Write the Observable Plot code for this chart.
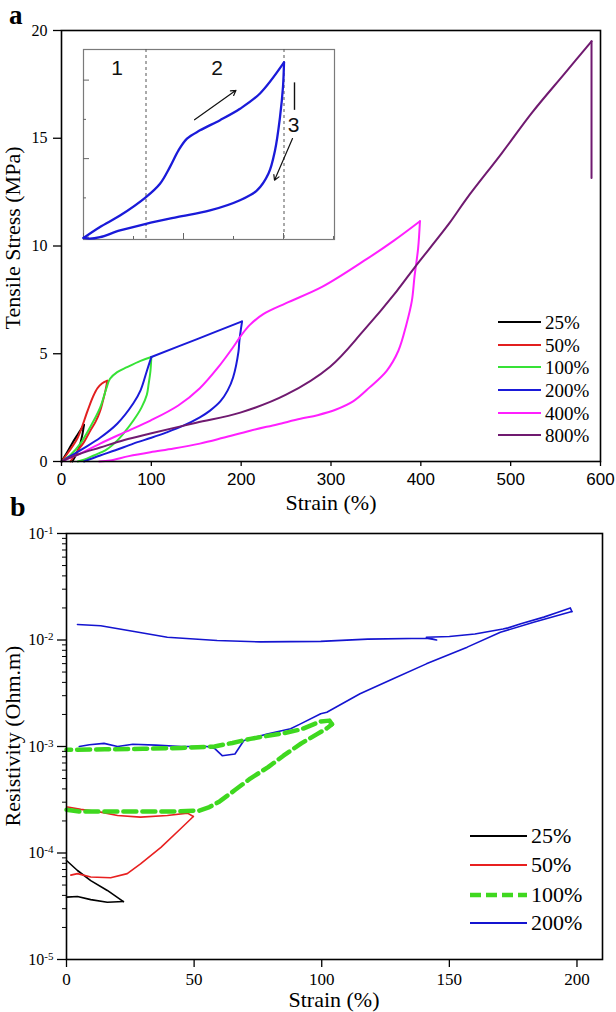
<!DOCTYPE html>
<html><head><meta charset="utf-8">
<script src="https://cdn.jsdelivr.net/npm/d3@7"></script>
<script src="https://cdn.jsdelivr.net/npm/@observablehq/plot@0.6"></script>
<style>
body{margin:0;background:#fff;}
#wrap{position:relative;width:616px;height:1012px;overflow:hidden;background:#fff;font-family:"Liberation Serif","Times New Roman",serif;color:#000;}
.abs{position:absolute;white-space:nowrap;line-height:1;}
.ov{position:absolute;left:0;}
</style></head><body><div id="wrap"></div>
<script>
// ---------- Panel a data: [strain %, stress MPa], branches (loading / unloading) ----------
const namesA = ["25%","50%","100%","200%","400%","800%"];
const colorsA = ["#000000","#E21F1F","#36E236","#1A1AD9","#FF1FFF","#701A70"];
const xTicksA = [0,100,200,300,400,500,600];
const yTicksA = [0,5,10,15,20];

const stress25 = [
  [[0,0],[6,0.4],[12,0.85],[18,1.25],[25,1.7]],
  [[25,1.7],[23,1.2],[20,0.7],[16,0.3],[12,0]]
];
const stress50 = [
  [[0,0],[8,0.45],[18,1.1],[29,2.35],[35,3.0],[40,3.4],[45,3.62],[51,3.75]],
  [[51,3.75],[49,3.3],[46,2.8],[43,2.35],[38,1.85],[32,1.43],[25,0.9],[18,0.5],[13,0.2],[10,0]]
];
const stress100 = [
  [[0,0],[10,0.3],[21,0.83],[32,1.6],[43,2.5],[50,3.4],[54,3.84],[62,4.15],[73,4.38],[88,4.67],[100,4.85]],
  [[100,4.85],[99,4.2],[97,3.6],[95,3.1],[89,2.5],[80,1.9],[70,1.35],[62,0.97],[50,0.55],[36,0.28],[25,0.08],[18,0]]
];
const stress200 = [
  [[0,0],[10,0.25],[24,0.6],[43,1.1],[62,1.75],[80,2.7],[88,3.3],[95,4.2],[100,4.85]],
  [[100,4.85],[151,5.68],[201,6.5]],
  [[201,6.5],[198,5.6],[197,5.1],[191,3.9],[185,3.3],[177,2.8],[165,2.35],[154,2.05],[135,1.65],[117,1.35],[100,1.1],[80,0.83],[60,0.52],[43,0.28],[25,0]]
];
const stress400 = [
  [[0,0],[20,0.35],[43,0.83],[70,1.35],[99,1.9],[130,2.6],[154,3.4],[175,4.4],[191,5.3],[200,5.85],[210,6.35],[225,6.85],[250,7.35],[290,8.1],[340,9.4],[370,10.25],[399,11.15]],
  [[399,11.15],[397,9.9],[393,8.6],[390,7.45],[384,6.37],[375,5.14],[362,4.21],[343,3.44],[325,2.8],[305,2.4],[285,2.15],[266,1.98],[240,1.72],[210,1.43],[180,1.1],[154,0.83],[125,0.6],[99,0.43],[75,0.25],[54,0.05],[42,0]]
];
const stress800 = [
  [[0,0],[7,0.14],[20,0.35],[43,0.65],[70,1.0],[99,1.3],[150,1.8],[199,2.27],[250,3.1],[299,4.4],[336,6.06],[373,7.9],[393,9.0],[432,11.07],[451,12.2],[490,14.3],[524,16.2],[560,18.0],[590,19.5]],
  [[590,19.5],[590,13.15]]
];

// ---------- Inset data (arbitrary units, no labels) ----------
const insetLoad = [[0,-0.02],[0.33,0.26],[0.73,0.55],[1.25,1.02],[1.53,1.36],[1.73,1.79],[1.9,2.21],[2.07,2.51],[2.33,2.72],[2.73,2.98],[3.13,3.27],[3.53,3.66],[4.01,4.45]];
const insetUnload = [[4.01,4.45],[3.99,3.83],[3.93,3.06],[3.83,2.21],[3.7,1.62],[3.47,1.19],[3.13,0.94],[2.53,0.68],[1.87,0.51],[1.25,0.34],[0.73,0.17],[0.33,0.0],[0.13,-0.04],[0,-0.02]];
const insetDashes = [1.25,4.01];
const insetXMajor = [0,2,4], insetXMinor = [1,3,5];
const insetYMajor = [0,2,4], insetYMinor = [1,3];
const insetLabels = [{t:"1",x:0.67,y:4.3},{t:"2",x:2.67,y:4.3},{t:"3",x:4.2,y:2.85}];
const insetArrows = [{x1:2.22,y1:2.99,x2:3.05,y2:3.74},{x1:4.18,y1:2.51,x2:3.82,y2:1.45}];
const insetBar = [{x:4.22,y1:3.93,y2:3.23}];

// ---------- Panel b data: [strain %, resistivity Ohm.m] ----------
const namesB = ["25%","50%","100%","200%"];
const colorsB = ["#000000","#E82020","#3FD81F","#1414D0"];
const xTicksB = [0,50,100,150,200];
const yTicksB = [1e-5,1e-4,1e-3,1e-2,1e-1];

const res25 = [
  [[0,3.85e-5],[4.3,3.9e-5],[9.5,3.65e-5],[16,3.45e-5],[22.3,3.5e-5]],
  [[22.3,3.5e-5],[16,4.45e-5],[9.5,5.5e-5],[4.3,6.85e-5],[0,8.5e-5]]
];
const res50 = [
  [[1.7,6.2e-5],[4.3,6.4e-5],[9.5,5.95e-5],[17.3,5.85e-5],[23.8,6.4e-5],[29,7.9e-5],[37,1.13e-4],[44.8,1.7e-4],[49.7,2.2e-4]],
  [[49.7,2.2e-4],[47.4,2.37e-4],[39.5,2.25e-4],[29,2.17e-4],[20,2.25e-4],[13.4,2.42e-4],[5.6,2.57e-4],[0.4,2.7e-4]]
];
const res100 = [
  [[0,2.55e-4],[5,2.45e-4],[20,2.45e-4],[40,2.45e-4],[52,2.5e-4],[56,2.7e-4],[60,3.05e-4],[66,3.9e-4],[72,5.0e-4],[79,6.4e-4],[85,8.2e-4],[92,1.07e-3],[98,1.3e-3],[102,1.48e-3],[104,1.62e-3]],
  [[104,1.62e-3],[103,1.75e-3],[99.6,1.72e-3],[92,1.45e-3],[85,1.33e-3],[78,1.25e-3],[72,1.18e-3],[65,1.08e-3],[58,1.0e-3],[45,9.7e-4],[30,9.5e-4],[15,9.4e-4],[0,9.3e-4]]
];
const res200 = [
  [[5,1.0e-3],[9,1.04e-3],[14.7,1.07e-3],[20,1.0e-3],[26,1.05e-3],[35,1.03e-3],[45,1.0e-3],[55,1.0e-3],[58,9.6e-4],[61,8.2e-4],[66,8.5e-4],[69.5,1.14e-3],[78.6,1.31e-3],[87.8,1.47e-3],[91.7,1.63e-3],[99.6,2.03e-3],[102,2.1e-3],[115,3.13e-3],[128,4.33e-3],[141,5.97e-3],[157,8.57e-3],[170,1.18e-2],[183,1.47e-2],[198,1.85e-2]],
  [[198,1.85e-2],[197.4,2.0e-2],[192,1.8e-2],[187,1.64e-2],[178,1.42e-2],[173,1.3e-2],[171,1.27e-2],[160,1.14e-2],[150,1.08e-2],[141,1.06e-2],[145,1.0e-2],[141,1.04e-2],[118,1.02e-2],[99.6,9.7e-3],[76,9.6e-3],[59,9.9e-3],[39.5,1.06e-2],[26.5,1.2e-2],[13.4,1.36e-2],[4.3,1.4e-2]]
];

// ---------- helpers ----------
function rowsOf(series, names) {
  const rows = [];
  series.forEach((branches, i) => branches.forEach((br, j) =>
    br.forEach(([x, y]) => rows.push({x, y, s: names[i], z: names[i] + "-" + j}))));
  return rows;
}
const wrap = document.getElementById("wrap");
function place(el, left, top) { el.style.left = left + "px"; el.style.top = top + "px"; el.classList.add("ov"); wrap.appendChild(el); }
function text(t, x, y, opts = {}) {
  const d = document.createElement("div");
  d.className = "abs";
  d.textContent = t;
  d.style.fontSize = (opts.size || 22) + "px";
  if (opts.lineHeight) d.style.lineHeight = opts.lineHeight;
  if (opts.weight) d.style.fontWeight = opts.weight;
  if (opts.family) d.style.fontFamily = opts.family;
  d.style.left = x + "px"; d.style.top = y + "px";
  const anchor = opts.anchor || "center";
  const tx = anchor === "start" ? "0" : "-50%";
  const ty = opts.top ? "0" : "-50%";
  d.style.transform = `translate(${tx},${ty})`;
  if (opts.rotate) { d.style.transformOrigin = "0 0"; d.style.transform = `rotate(${opts.rotate}deg) translate(-50%,-50%)`; }
  wrap.appendChild(d);
  return d;
}
function legend(names, colors, x, rowsY, lineLen, gap, size, styles = {}) {
  names.forEach((n, i) => {
    const s = document.createElementNS("http://www.w3.org/2000/svg", "svg");
    s.setAttribute("width", lineLen + 4); s.setAttribute("height", 12);
    s.style.position = "absolute"; s.style.left = (x - 2) + "px"; s.style.top = (rowsY[i] - 6) + "px";
    const l = document.createElementNS("http://www.w3.org/2000/svg", "line");
    l.setAttribute("x1", 2); l.setAttribute("x2", lineLen + 2); l.setAttribute("y1", 6); l.setAttribute("y2", 6);
    l.setAttribute("stroke", colors[i]);
    const st = styles[n] || {};
    l.setAttribute("stroke-width", st.width || 2);
    if (st.dash) l.setAttribute("stroke-dasharray", st.dash);
    s.appendChild(l);
    wrap.appendChild(s);
    text(n, x + lineLen + gap, rowsY[i], {size, anchor: "start"});
  });
}

// ---------- Panel a ----------
const rowsA = rowsOf([stress25, stress50, stress100, stress200, stress400, stress800], namesA);
const plotA = Plot.plot({
  width: 616, height: 500,
  marginLeft: 61, marginRight: 16, marginTop: 30, marginBottom: 39,
  style: {fontFamily: "Liberation Serif", fontSize: "16px", color: "#000", background: "transparent"},
  x: {domain: [0, 600]},
  y: {domain: [0, 20]},
  color: {domain: namesA, range: colorsA},
  marks: [
    Plot.line(rowsA, {x: "x", y: "y", z: "z", stroke: "s", strokeWidth: 2, curve: "catmull-rom"}),
    Plot.frame({stroke: "#000", strokeWidth: 1.6}),
    Plot.axisX({ticks: xTicksA, tickSize: 5, tickPadding: 6, strokeWidth: 1.3, fontFamily: "Liberation Sans", fontSize: 17, label: null}),
    Plot.axisY({ticks: yTicksA, tickSize: 8, tickPadding: 6, strokeWidth: 1.3, fontSize: 16, label: null})
  ]
});
place(plotA, 0, 0);

// ---------- Inset ----------
const insetRows = rowsOf([[insetLoad, insetUnload]], ["inset"]);
const plotI = Plot.plot({
  width: 616, height: 500,
  marginLeft: 83, marginRight: 282, marginTop: 49, marginBottom: 261,
  style: {fontFamily: "Liberation Sans", background: "transparent", color: "#000"},
  x: {domain: [0, 5.02], axis: null},
  y: {domain: [-0.06, 4.78], axis: null},
  marks: [
    Plot.frame({fill: "white", stroke: "#7a7a7a", strokeWidth: 1.2}),
    Plot.ruleX(insetDashes, {x: d => d, stroke: "#555", strokeDasharray: "3,3", strokeWidth: 1}),
    Plot.ruleX(insetXMajor, {x: d => d, insetTop: 184, stroke: "#666"}),
    Plot.ruleX(insetXMinor, {x: d => d, insetTop: 187, stroke: "#666"}),
    Plot.ruleY(insetYMajor, {y: d => d, insetRight: 245, stroke: "#666"}),
    Plot.ruleY(insetYMinor, {y: d => d, insetRight: 248, stroke: "#666"}),
    Plot.line(insetRows, {x: "x", y: "y", z: "z", stroke: "#1A1AD9", strokeWidth: 2.3, curve: "catmull-rom"}),
    Plot.arrow(insetArrows, {x1: "x1", y1: "y1", x2: "x2", y2: "y2", stroke: "#111", strokeWidth: 1.2, headLength: 7}),
    Plot.ruleX(insetBar, {x: "x", y1: "y1", y2: "y2", stroke: "#111", strokeWidth: 1.4}),
    Plot.text(insetLabels, {x: "x", y: "y", text: "t", fontSize: 21, fill: "#111"})
  ]
});
place(plotI, 0, 0);

// ---------- Panel b ----------
const minorB = [];
for (let k = -5; k <= -2; k++) for (let m = 2; m <= 9; m++) minorB.push(m * Math.pow(10, k));
const rowsB = rowsOf([res25, res50, res100, res200], namesB);
const plotB = Plot.plot({
  width: 616, height: 512,
  marginLeft: 66, marginRight: 14, marginTop: 33, marginBottom: 53,
  style: {fontFamily: "Liberation Serif", fontSize: "16px", color: "#000", background: "transparent"},
  x: {domain: [0, 210]},
  y: {type: "log", domain: [1e-5, 1e-1]},
  color: {domain: namesB, range: colorsB},
  marks: [
    Plot.line(rowsB.filter(d => d.s !== "100%"), {x: "x", y: "y", z: "z", stroke: "s", strokeWidth: 1.6}),
    Plot.line(rowsB.filter(d => d.s === "100%"), {x: "x", y: "y", z: "z", stroke: "s", strokeWidth: 4.5, strokeDasharray: "13,6"}),
    Plot.frame({stroke: "#000", strokeWidth: 1.6}),
    Plot.axisX({ticks: xTicksB, tickSize: 8, tickPadding: 5, strokeWidth: 1.3, fontSize: 17, label: null}),
    Plot.axisY({ticks: minorB, tickSize: 4, strokeWidth: 1, tickFormat: () => "", label: null}),
    Plot.axisY({ticks: yTicksB, tickSize: 9, tickPadding: 4, strokeWidth: 1.3, fontSize: 16, label: null,
      tickFormat: d => "10^" + Math.round(Math.log10(d))})
  ]
});
place(plotB, 0, 500);
// superscript exponents on the log axis labels
plotB.querySelectorAll("text").forEach(t => {
  const s = t.textContent;
  if (/^10\^-?\d+$/.test(s)) {
    const exp = s.split("^")[1];
    t.textContent = "10";
    const ts = document.createElementNS("http://www.w3.org/2000/svg", "tspan");
    ts.setAttribute("dy", "-0.45em");
    ts.setAttribute("font-size", "11px");
    ts.textContent = exp;
    t.appendChild(ts);
  }
});

// ---------- Text ----------
text("a", 9, 1.5, {size: 27, weight: "bold", anchor: "start", top: true});
text("b", 10, 496, {size: 28, weight: "bold", anchor: "start", top: true, lineHeight: 0.8});
text("Strain (%)", 331, 503, {size: 22});
text("Strain (%)", 334, 1000, {size: 22});
text("Tensile Stress (MPa)", 13, 238, {size: 22, rotate: -90});
text("Resistivity (Ohm.m)", 13, 736, {size: 22, rotate: -90});

// ---------- Legends ----------
legend(namesA, colorsA, 498, [322, 345, 367, 390, 413, 435], 43, 4, 19);
legend(namesB, colorsB, 470, [836, 865, 895, 923], 57, 4, 22,
  {"100%": {width: 4.5, dash: "11,5"}, "25%": {width: 1.8}, "50%": {width: 1.8}, "200%": {width: 1.8}});
</script></body></html>
